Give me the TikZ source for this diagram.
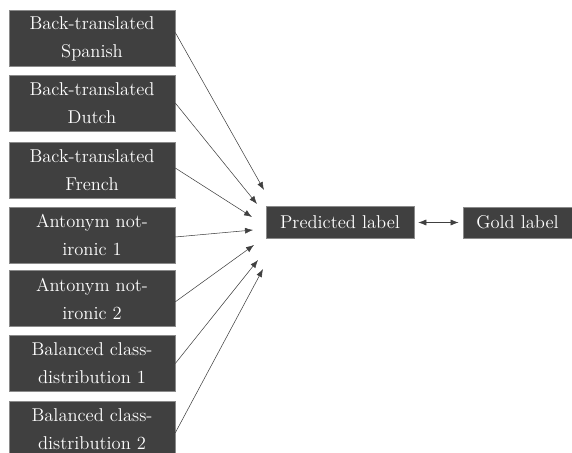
\documentclass[tikz,border=0pt]{standalone}
\usetikzlibrary{arrows.meta}
\definecolor{boxfill}{HTML}{404040}
\definecolor{boxline}{HTML}{8A8A8A}
\tikzset{
  srcbox/.style={draw=boxline, line width=0.4pt, fill=boxfill, text=white, align=center,
    minimum width=124.5pt, minimum height=42pt, inner sep=0pt,
    font=\fontsize{13.9}{21}\selectfont},
  labbox/.style={draw=boxline, line width=0.4pt, fill=boxfill, text=white,
    minimum height=24pt, inner sep=0pt, font=\fontsize{13.9}{21}\selectfont},
  conn/.style={draw=black!75, line width=0.4pt, -{Latex[length=6pt,width=4.5pt]}},
}
\begin{document}
\begin{tikzpicture}[x=0.75pt,y=-0.75pt]
\useasboundingbox (0,0) rectangle (572,453);
\node[srcbox] (s1) at (92,38.5) {Back-translated\\Spanish};
\node[srcbox] (s2) at (92,103) {Back-translated\\Dutch};
\node[srcbox] (s3) at (92,170) {Back-translated\\French};
\node[srcbox] (s4) at (92,235) {Antonym not-\\ironic 1};
\node[srcbox] (s5) at (92,298.5) {Antonym not-\\ironic 2};
\node[srcbox] (s6) at (92,363.5) {Balanced class-\\distribution 1};
\node[srcbox] (s7) at (92,429.5) {Balanced class-\\distribution 2};
\node[labbox, minimum width=111pt] (pred) at (340,222.5) {Predicted label};
\node[labbox, minimum width=82pt, minimum height=23.25pt] (gold) at (517.5,222.5) {Gold label};
\coordinate (t1) at (264,190);
\coordinate (t2) at (257,204);
\coordinate (t3) at (252,217);
\coordinate (t4) at (253,230);
\coordinate (t5) at (254,245);
\coordinate (t6) at (258,260);
\coordinate (t7) at (263,269);
\coordinate (e1) at ([yshift=4.5pt]s1.east);
\coordinate (e2) at (s2.east);
\coordinate (e3) at ([yshift=1.5pt]s3.east);
\coordinate (e4) at ([yshift=-1.5pt]s4.east);
\coordinate (e5) at ([yshift=-2.5pt]s5.east);
\coordinate (e6) at (s6.east);
\coordinate (e7) at ([yshift=-2.5pt]s7.east);
\foreach \i in {1,...,7} { \draw[conn] (e\i) -- (t\i); }
\draw[draw=black!75, line width=0.4pt, {Latex[length=6pt,width=4.5pt]}-{Latex[length=6pt,width=4.5pt]}] ([xshift=3pt]pred.east) -- ([xshift=-3pt]gold.west);
\end{tikzpicture}
\end{document}
